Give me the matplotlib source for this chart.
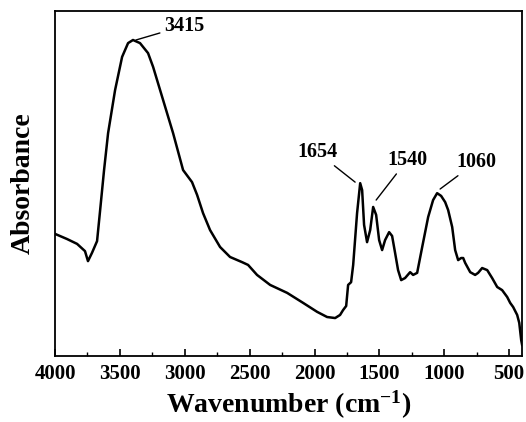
import matplotlib
matplotlib.use("Agg")
import matplotlib.pyplot as plt
from matplotlib.ticker import MultipleLocator

# FTIR spectrum (wavenumber in cm^-1, absorbance in arb. units)
wavenumber = [4000, 3907, 3830, 3769, 3746, 3715, 3676, 3653, 3622, 3591, 3537, 3483,
              3437, 3399, 3345, 3283, 3244, 3167, 3090, 3013, 2944, 2905, 2859, 2805,
              2728, 2651, 2558, 2512, 2443, 2342, 2211, 2088, 1980, 1903, 1841, 1803,
              1780, 1756, 1741, 1718, 1702, 1672, 1648, 1633, 1618, 1595, 1571, 1548,
              1525, 1502, 1479, 1456, 1425, 1402, 1379, 1356, 1332, 1302, 1263, 1240,
              1209, 1170, 1124, 1086, 1055, 1024, 993, 970, 939, 916, 893, 870,
              854, 839, 800, 762, 739, 708, 669, 631, 592, 554, 515, 492,
              469, 438, 422, 407, 400]
absorbance = [0.354, 0.339, 0.325, 0.304, 0.275, 0.299, 0.333, 0.420, 0.539, 0.646, 0.771, 0.867,
              0.907, 0.916, 0.907, 0.878, 0.838, 0.742, 0.646, 0.539, 0.504, 0.467, 0.414, 0.365,
              0.316, 0.287, 0.272, 0.264, 0.235, 0.206, 0.183, 0.154, 0.128, 0.113, 0.110, 0.119,
              0.133, 0.145, 0.206, 0.214, 0.264, 0.414, 0.501, 0.481, 0.380, 0.330, 0.365, 0.432,
              0.409, 0.336, 0.307, 0.336, 0.359, 0.348, 0.299, 0.249, 0.220, 0.226, 0.243, 0.235,
              0.241, 0.316, 0.403, 0.452, 0.472, 0.464, 0.446, 0.423, 0.374, 0.307, 0.278, 0.284,
              0.284, 0.270, 0.243, 0.235, 0.241, 0.255, 0.249, 0.226, 0.200, 0.191, 0.171, 0.154,
              0.142, 0.119, 0.096, 0.046, 0.032]

# peak labels: text, point on the curve, label position
peak_labels = ["3415", "1654", "1540", "1060"]
peak_xy = [(3376, 0.916), (1687, 0.504), (1525, 0.452), (1032, 0.484)]
label_xy = [(3005, 0.957), (1980, 0.591), (1286, 0.568), (754, 0.562)]

plt.rcParams["font.family"] = ["Liberation Serif", "DejaVu Serif"]
plt.rcParams["font.weight"] = "bold"
plt.rcParams["mathtext.fontset"] = "custom"
plt.rcParams["mathtext.rm"] = "Liberation Serif:bold"
plt.rcParams["mathtext.bf"] = "Liberation Serif:bold"
plt.rcParams["mathtext.it"] = "Liberation Serif:bold"

fig = plt.figure(figsize=(5.26, 4.22), dpi=100)
ax = fig.add_axes([0.1046, 0.1564, 0.888, 0.8175])

ax.plot(wavenumber, absorbance, color="black", lw=1.8)

for txt, xy, xyt in zip(peak_labels, peak_xy, label_xy):
    ax.annotate(txt, xy=xy, xytext=xyt, ha="center", va="center",
                fontsize=14.5, fontweight="bold",
                arrowprops=dict(arrowstyle="-", color="black", lw=1.0,
                                shrinkA=1, shrinkB=0))

ax.set_xlim(4000, 400)
ax.set_ylim(0, 1)
ax.xaxis.set_major_locator(MultipleLocator(500))
ax.xaxis.set_minor_locator(MultipleLocator(250))
ax.tick_params(axis="x", which="major", direction="in", length=5, width=1.2,
               labelsize=15, pad=6)
ax.tick_params(axis="x", which="minor", direction="in", length=3, width=1.0)
ax.set_yticks([])
for lab in ax.get_xticklabels():
    lab.set_fontweight("bold")
for sp in ax.spines.values():
    sp.set_linewidth(1.3)

ax.set_xlabel("Wavenumber (cm$^{-1}$)", fontsize=20, fontweight="bold", labelpad=3)
ax.set_ylabel("Absorbance", fontsize=20, fontweight="bold", labelpad=14)

fig.savefig("out.png", dpi=100)
